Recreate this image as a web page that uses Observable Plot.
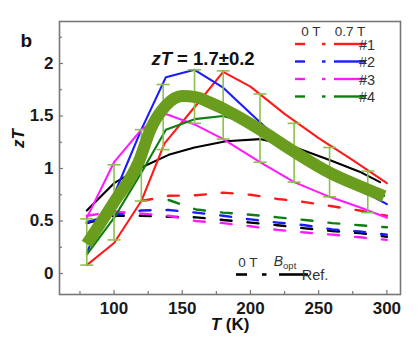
<!DOCTYPE html>
<html>
<head>
<meta charset="utf-8">
<script src="https://cdn.jsdelivr.net/npm/d3@7"></script>
<script src="https://cdn.jsdelivr.net/npm/@observablehq/plot@0.6"></script>
<style>
  body { margin: 0; background: #fff; }
  #chart svg { display: block; }
</style>
</head>
<body>
<div id="chart"></div>
<script>
// ---- zT(T) of samples #1–#4 and the reference, at 0.7 T (solid) and 0 T (dashed) ----
const sampleNames = ["#1", "#2", "#3", "#4"];
const sampleColors = ["#ff1a1a", "#1a1aff", "#ff1aff", "#0f7d0f"];
const refColor = "#000000";

// 0.7 T (solid lines)
const s1T = [80, 100, 120, 137, 160, 180, 200, 225, 250, 275, 300];
const s1Z = [0.08, 0.29, 0.69, 1.24, 1.60, 1.92, 1.78, 1.52, 1.29, 1.08, 0.86];
const s2T = [80, 100, 120, 138, 159, 180, 207, 232, 258, 280, 300];
const s2Z = [0.20, 0.75, 1.37, 1.87, 1.94, 1.77, 1.44, 1.14, 0.96, 0.80, 0.66];
const s3T = [80, 100, 120, 138, 159, 180, 207, 232, 258, 280, 300];
const s3Z = [0.53, 1.06, 1.37, 1.52, 1.42, 1.28, 1.06, 0.87, 0.73, 0.63, 0.53];
const s4T = [80, 100, 120, 138, 159, 180, 207, 232, 258, 280, 298];
const s4Z = [0.18, 0.53, 0.96, 1.37, 1.47, 1.50, 1.40, 1.18, 1.00, 0.86, 0.74];
const refT = [80, 100, 120, 140, 159, 182, 207, 231, 258, 280, 295];
const refZ = [0.60, 0.86, 1.01, 1.13, 1.20, 1.26, 1.28, 1.21, 1.08, 0.97, 0.87];

// 0 T (dashed lines)
const d1T = [120, 140, 160, 180, 200, 220, 240, 260, 280, 300];
const d1Z = [0.69, 0.74, 0.745, 0.77, 0.75, 0.71, 0.68, 0.64, 0.60, 0.55];
const d2T = [80, 100, 120, 140, 160, 180, 200, 220, 240, 260, 280, 300];
const d2Z = [0.49, 0.56, 0.60, 0.605, 0.58, 0.55, 0.515, 0.485, 0.46, 0.42, 0.40, 0.37];
const d3T = [80, 100, 120, 140, 160, 180, 200, 220, 240, 260, 280, 300];
const d3Z = [0.55, 0.59, 0.57, 0.55, 0.50, 0.48, 0.45, 0.415, 0.39, 0.37, 0.345, 0.32];
const d4T = [140, 160, 180, 200, 220, 240, 260, 280, 300];
const d4Z = [0.70, 0.61, 0.58, 0.56, 0.535, 0.51, 0.48, 0.46, 0.44];
const dRefT = [80, 100, 120, 140, 160, 180, 200, 220, 240, 260, 280, 300];
const dRefZ = [0.48, 0.55, 0.55, 0.54, 0.535, 0.51, 0.485, 0.46, 0.43, 0.405, 0.385, 0.35];

// Average zT curve (thick band) and its spread (error bars)
const avgT = [80, 100, 118, 127, 138, 150, 160, 170, 180, 207, 232, 258, 286, 298];
const avgZ = [0.28, 0.68, 1.06, 1.38, 1.60, 1.69, 1.68, 1.63, 1.57, 1.37, 1.16, 0.96, 0.80, 0.735];
const errT  = [80, 100, 120, 136, 159, 180, 207, 232, 258, 286];
const errLo = [0.08, 0.32, 0.69, 1.18, 1.43, 1.28, 1.06, 0.87, 0.73, 0.58];
const errHi = [0.52, 1.035, 1.37, 1.80, 1.94, 1.93, 1.71, 1.43, 1.20, 0.975];

// Axis ticks
const xTicks = [100, 150, 200, 250, 300];
const xMinor = [75, 125, 175, 225, 275];
const yTicks = [0, 0.5, 1, 1.5, 2];
const yMinor = [0.25, 0.75, 1.25, 1.75, 2.25];
const yTickLabels = ["0", "0.5", "1", "1.5", "2"];

// ---- helpers ----
const rows = (T, Z) => T.map((t, i) => ({T: t, zT: Z[i]}));
const solid = [[s1T, s1Z], [s2T, s2Z], [s3T, s3Z], [s4T, s4Z]];
const dashed = [[d1T, d1Z], [d2T, d2Z], [d3T, d3Z], [d4T, d4Z]];
const errRows = errT.map((t, i) => ({T: t, lo: errLo[i], hi: errHi[i]}));

const DASH = "11,16";
const errColor = "#8cc04a";
const bandColor = "#6a9c1e";
const axisGray = "#777";

// horizontal bar used as the error-bar cap
const capSymbol = {
  draw(context, size) {
    const w = Math.sqrt(size / Math.PI);
    context.moveTo(-w, 0);
    context.lineTo(w, 0);
  }
};

const plot = Plot.plot({
  width: 420,
  height: 350,
  marginLeft: 59,
  marginRight: 20,
  marginTop: 21,
  marginBottom: 56,
  x: {domain: [60, 310], label: null},
  y: {domain: [-0.2, 2.4], label: null},
  style: {fontFamily: "'Liberation Sans', Arial, sans-serif", background: "#fff", color: "#1a1a1a"},
  marks: [
    // 0 T curves (dashed)
    Plot.line(rows(dRefT, dRefZ), {x: "T", y: "zT", stroke: refColor, strokeWidth: 2.4, strokeDasharray: DASH}),
    ...dashed.map(([T, Z], i) =>
      Plot.line(rows(T, Z), {x: "T", y: "zT", stroke: sampleColors[i], strokeWidth: 2.4, strokeDasharray: DASH})),
    // 0.7 T / B_opt curves (solid)
    Plot.line(rows(refT, refZ), {x: "T", y: "zT", stroke: refColor, strokeWidth: 2.1}),
    ...solid.map(([T, Z], i) =>
      Plot.line(rows(T, Z), {x: "T", y: "zT", stroke: sampleColors[i], strokeWidth: 2.1})),
    // error bars of the average
    Plot.ruleX(errRows, {x: "T", y1: "lo", y2: "hi", stroke: errColor, strokeWidth: 1.6}),
    Plot.dot(errRows, {x: "T", y: "lo", symbol: capSymbol, r: 6.5, stroke: errColor, strokeWidth: 1.6, fill: "none"}),
    Plot.dot(errRows, {x: "T", y: "hi", symbol: capSymbol, r: 6.5, stroke: errColor, strokeWidth: 1.6, fill: "none"}),
    // average zT band
    Plot.line(rows(avgT, avgZ), {x: "T", y: "zT", stroke: bandColor, strokeWidth: 12, curve: "monotone-x", strokeLinecap: "butt"}),
    // frame and axes (ticks point inward)
    Plot.frame({stroke: axisGray, strokeWidth: 1.6}),
    Plot.axisX(xMinor, {tickSize: -3, fill: "none", stroke: axisGray, strokeWidth: 1.2, label: null}),
    Plot.axisX(xTicks, {tickSize: -4, fill: "none", stroke: axisGray, strokeWidth: 1.2, label: null}),
    Plot.axisX(xTicks, {tickSize: 0, tickPadding: 7, fontSize: 17, fontWeight: "bold", fill: "#1a1a1a", label: null}),
    Plot.axisY(yMinor, {tickSize: -3, fill: "none", stroke: axisGray, strokeWidth: 1.2, label: null}),
    Plot.axisY(yTicks, {tickSize: -4, fill: "none", stroke: axisGray, strokeWidth: 1.2, label: null}),
    Plot.axisY(yTicks, {tickSize: 0, tickPadding: 6, fontSize: 17, fontWeight: "bold", fill: "#1a1a1a", label: null,
      tickFormat: (d) => yTickLabels[yTicks.indexOf(d)]}),
    // panel letter, axis titles, headline
    Plot.text(["b"], {frameAnchor: "top-left", dx: -39, dy: 12, textAnchor: "start", fontSize: 19, fontWeight: "bold", fill: "#111"}),
    Plot.text(["zT"], {frameAnchor: "left", dx: -41, dy: -10, rotate: -90, fontSize: 17, fontWeight: "bold", fontStyle: "italic", fill: "#111"}),
    Plot.text(["T (K)"], {frameAnchor: "bottom", dx: 0, dy: 35, fontSize: 17, fontWeight: "bold", fill: "#111"}),
    Plot.text(["zT = 1.7±0.2"], {frameAnchor: "top", dx: -27, dy: 30, fontSize: 18.5, fontWeight: "bold", fill: "#111"})
  ]
});

document.getElementById("chart").appendChild(plot);
const svg = d3.select(plot);

// mixed italic / upright text
function restyle(content, parts) {
  svg.selectAll("text").filter(function () { return this.textContent === content; }).each(function () {
    const t = d3.select(this);
    t.text(null);
    parts.forEach(([s, italic]) => t.append("tspan").attr("font-style", italic ? "italic" : "normal").text(s));
  });
}
restyle("T (K)", [["T", true], [" (K)", false]]);
restyle("zT = 1.7±0.2", [["zT", true], [" = 1.7±0.2", false]]);

// ---- legends ----
const leg = svg.append("g").attr("font-family", "'Liberation Sans', Arial, sans-serif");
leg.append("text").attr("x", 311).attr("y", 35.5).attr("text-anchor", "middle")
  .attr("font-size", 13.5).attr("fill", "#333").text("0 T");
leg.append("text").attr("x", 350).attr("y", 35.5).attr("text-anchor", "middle")
  .attr("font-size", 13.5).attr("fill", "#333").text("0.7 T");
const rowY = [44, 61.5, 79, 96.5];
sampleNames.forEach((name, i) => {
  const y = rowY[i];
  const c = sampleColors[i];
  leg.append("line").attr("x1", 295).attr("x2", 305).attr("y1", y).attr("y2", y).attr("stroke", c).attr("stroke-width", 2.4);
  leg.append("line").attr("x1", 322).attr("x2", 325.5).attr("y1", y).attr("y2", y).attr("stroke", c).attr("stroke-width", 2.4);
  leg.append("line").attr("x1", 334).attr("x2", 366).attr("y1", y).attr("y2", y).attr("stroke", c).attr("stroke-width", 2.4);
  leg.append("text").attr("x", 367).attr("y", y + 5.5).attr("font-size", 14.5).attr("fill", "#333").text(name);
});

// reference legend
leg.append("text").attr("x", 248).attr("y", 267).attr("text-anchor", "middle")
  .attr("font-size", 13.5).attr("fill", "#333").text("0 T");
leg.append("line").attr("x1", 236).attr("x2", 247).attr("y1", 274.5).attr("y2", 274.5).attr("stroke", refColor).attr("stroke-width", 2.6);
leg.append("line").attr("x1", 262).attr("x2", 266.5).attr("y1", 274.5).attr("y2", 274.5).attr("stroke", refColor).attr("stroke-width", 2.6);
leg.append("line").attr("x1", 279).attr("x2", 308).attr("y1", 274.5).attr("y2", 274.5).attr("stroke", refColor).attr("stroke-width", 2.6);
const bopt = leg.append("text").attr("x", 285).attr("y", 266).attr("font-size", 14).attr("fill", "#333");
bopt.append("tspan").attr("font-style", "italic").text("B");
bopt.append("tspan").attr("font-size", 9.5).attr("dy", 2.5).text("opt");
leg.append("text").attr("x", 315).attr("y", 280).attr("font-size", 14.5).attr("fill", "#333").text("Ref.");
</script>
</body>
</html>
